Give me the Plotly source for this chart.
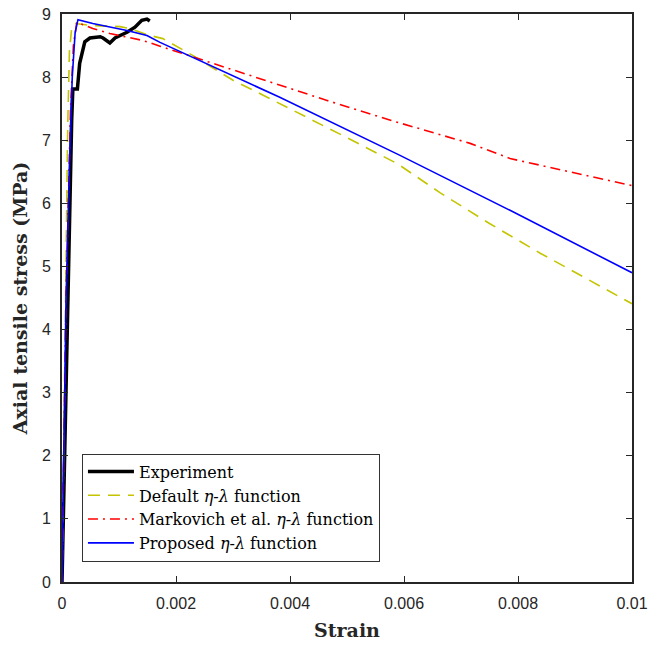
import plotly.graph_objects as go

# ---- data (strain, axial tensile stress in MPa) ----
exp_strain = [0, 0.0001, 0.00017, 0.00019, 0.00027, 0.00031, 0.0004, 0.00049, 0.00067,
              0.00072, 0.00084, 0.00093, 0.00114, 0.00128, 0.0014, 0.00149, 0.00154]
exp_stress = [0, 4.5, 7.32, 7.81, 7.81, 8.22, 8.56, 8.62, 8.64,
              8.62, 8.54, 8.62, 8.71, 8.79, 8.90, 8.92, 8.89]

def_strain = [0, 0.0001, 0.00013, 0.00017, 0.00023, 0.00049, 0.00102, 0.00119, 0.00154,
              0.00177, 0.0023, 0.003, 0.00347, 0.00377, 0.00418, 0.00465, 0.005, 0.00546,
              0.00588, 0.00663, 0.0075, 0.00839, 0.00926, 0.01]
def_stress = [0, 7.2, 8.4, 8.78, 8.85, 8.82, 8.80, 8.77, 8.66,
              8.61, 8.34, 7.95, 7.74, 7.60, 7.42, 7.20, 7.04, 6.83,
              6.63, 6.17, 5.68, 5.21, 4.78, 4.41]

mar_strain = [0, 0.00007, 0.00015, 0.0002, 0.00026, 0.00054, 0.00084, 0.00142, 0.00172,
              0.0029, 0.00382, 0.00465, 0.00575, 0.00716, 0.00786, 0.00856, 0.00926, 0.01]
mar_stress = [0, 4.46, 7.5, 8.5, 8.87, 8.77, 8.69, 8.58, 8.49,
              8.14, 7.87, 7.63, 7.32, 6.95, 6.71, 6.57, 6.44, 6.28]

pro_strain = [0, 0.00007, 0.00013, 0.00018, 0.00023, 0.00028, 0.00054, 0.00114, 0.00149,
              0.00172, 0.00382, 0.00593, 0.00786, 0.01]
pro_stress = [0, 4.46, 6.6, 8.0, 8.7, 8.91, 8.85, 8.74, 8.66,
              8.55, 7.68, 6.76, 5.89, 4.90]

x_ticks = [0, 0.002, 0.004, 0.006, 0.008, 0.01]
x_tick_labels = ["0", "0.002", "0.004", "0.006", "0.008", "0.01"]
y_ticks = [0, 1, 2, 3, 4, 5, 6, 7, 8, 9]

fig = go.Figure()
fig.add_trace(go.Scatter(x=exp_strain, y=exp_stress, mode="lines", name="Experiment",
                         line=dict(color="black", width=3.5)))
fig.add_trace(go.Scatter(x=def_strain, y=def_stress, mode="lines",
                         name="Default <i>η</i>-<i>λ</i> function",
                         line=dict(color="#C4C400", width=1.6, dash="12px,8px")))
fig.add_trace(go.Scatter(x=mar_strain, y=mar_stress, mode="lines",
                         name="Markovich et al. <i>η</i>-<i>λ</i> function",
                         line=dict(color="#FF0000", width=1.6, dash="10px,5px,2px,5px")))
fig.add_trace(go.Scatter(x=pro_strain, y=pro_stress, mode="lines",
                         name="Proposed <i>η</i>-<i>λ</i> function",
                         line=dict(color="#0000FF", width=1.6)))

axis_common = dict(showline=True, linecolor="#262626", linewidth=1.7, mirror="ticks",
                   ticks="inside", ticklen=6, tickwidth=1.3, tickcolor="#262626",
                   showgrid=False, zeroline=False, automargin=False,
                   tickfont=dict(family="Liberation Sans, Arial", size=16, color="#262626"))

fig.update_xaxes(range=[0, 0.01], tickvals=x_ticks, ticktext=x_tick_labels,
                 title=dict(text="<b>Strain</b>", standoff=13,
                            font=dict(family="DejaVu Serif", size=19, color="#262626")),
                 ticklabelstandoff=6, **axis_common)
fig.update_yaxes(range=[0, 9], tickvals=y_ticks,
                 title=dict(text="<b>Axial tensile stress (MPa)</b>", standoff=9,
                            font=dict(family="DejaVu Serif", size=19, color="#262626")),
                 ticklabelstandoff=6, **axis_common)

fig.update_layout(
    width=650, height=646,
    margin=dict(l=62, r=18, t=14, b=64),
    plot_bgcolor="white", paper_bgcolor="white",
    showlegend=True,
    legend=dict(x=0.035, y=0.036, xanchor="left", yanchor="bottom",
                bgcolor="white", bordercolor="#333333", borderwidth=1,
                font=dict(family="DejaVu Serif", size=16, color="black"),
                itemwidth=46, tracegroupgap=0),
)

fig.write_html("out.html")
